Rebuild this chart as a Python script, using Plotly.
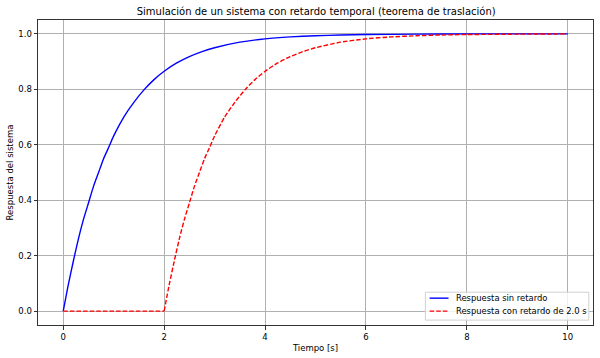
import plotly.graph_objects as go

# Response without delay
t_sin = [0, 0.1, 0.2, 0.3, 0.4, 0.5, 0.6, 0.7, 0.8, 0.9, 1.0, 1.2, 1.4, 1.6, 1.8, 2.0,
         2.25, 2.5, 2.75, 3.0, 3.5, 4.0, 4.5, 5.0, 5.5, 6.0, 7.0, 8.0, 9.0, 10.0]
y_sin = [0, 0.095, 0.18, 0.26, 0.33, 0.39, 0.45, 0.50, 0.55, 0.59, 0.632, 0.70, 0.753, 0.798, 0.835, 0.865,
         0.895, 0.918, 0.936, 0.95, 0.97, 0.982, 0.989, 0.993, 0.996, 0.9975, 0.999, 1.0, 1.0, 1.0]

# Response with 2.0 s delay
t_con = [0, 1.0, 2.0, 2.1, 2.2, 2.3, 2.4, 2.5, 2.6, 2.7, 2.8, 2.9, 3.0, 3.2, 3.4, 3.6, 3.8, 4.0,
         4.25, 4.5, 4.75, 5.0, 5.5, 6.0, 6.5, 7.0, 7.5, 8.0, 9.0, 10.0]
y_con = [0, 0, 0, 0.095, 0.18, 0.26, 0.33, 0.39, 0.45, 0.50, 0.55, 0.59, 0.632, 0.70, 0.753, 0.798, 0.835, 0.865,
         0.895, 0.918, 0.936, 0.95, 0.97, 0.982, 0.989, 0.993, 0.996, 0.9975, 0.999, 1.0]

x_ticks = [0, 2, 4, 6, 8, 10]
y_ticks = [0.0, 0.2, 0.4, 0.6, 0.8, 1.0]

series_names = ["Respuesta sin retardo", "Respuesta con retardo de 2.0 s"]
series_colors = ["blue", "red"]
series_dash = ["solid", "4.6px,2px"]

fig = go.Figure()
fig.add_trace(go.Scatter(x=t_sin, y=y_sin, mode="lines", name=series_names[0], showlegend=False,
                         line=dict(color=series_colors[0], width=1.4, shape="spline", smoothing=0.6)))
fig.add_trace(go.Scatter(x=t_con[:3], y=y_con[:3], mode="lines", showlegend=False,
                         line=dict(color=series_colors[1], width=1.4, dash=series_dash[1])))
fig.add_trace(go.Scatter(x=t_con[2:], y=y_con[2:], mode="lines", name=series_names[1], showlegend=False,
                         line=dict(color=series_colors[1], width=1.4, dash=series_dash[1],
                                   shape="spline", smoothing=0.6)))

axis_common = dict(showline=True, linecolor="#333333", linewidth=1, mirror=True,
                   ticks="outside", ticklen=3.5, tickcolor="#333333",
                   showgrid=True, gridcolor="#b0b0b0", gridwidth=0.8, zeroline=False,
                   tickfont=dict(size=8.5, color="black"))

# Custom legend box (matplotlib style, lower right)
shapes = [dict(type="rect", xref="paper", yref="paper", x0=0.698, x1=0.9925, y0=0.016, y1=0.1075,
               line=dict(color="#d0d0d0", width=1), fillcolor="rgba(255,255,255,0.8)", layer="above")]
annotations = []
rows_y = [0.088, 0.0456]
for name, col, dash, yy in zip(series_names, series_colors, series_dash, rows_y):
    shapes.append(dict(type="line", xref="paper", yref="paper", x0=0.7056, x1=0.7397, y0=yy, y1=yy,
                       line=dict(color=col, width=1.4, dash=dash), layer="above"))
    annotations.append(dict(text=name, xref="paper", yref="paper", x=0.7504, y=yy, xanchor="left",
                            yanchor="middle", showarrow=False, font=dict(size=8.4, color="black")))

fig.update_layout(
    width=600, height=358,
    margin=dict(l=38, r=6, t=20, b=31),
    paper_bgcolor="white", plot_bgcolor="white",
    font=dict(family="DejaVu Sans", color="black"),
    title=dict(text="Simulación de un sistema con retardo temporal (teorema de traslación)",
               x=0.527, xanchor="center", y=0.968, yanchor="middle", font=dict(size=10)),
    xaxis=dict(range=[-0.5, 10.5], tickvals=x_ticks, ticktext=[str(v) for v in x_ticks],
               title=dict(text="Tiempo [s]", font=dict(size=8.5), standoff=4), **axis_common),
    yaxis=dict(range=[-0.05, 1.05], tickvals=y_ticks, ticktext=[f"{v:.1f}" for v in y_ticks],
               title=dict(text="Respuesta del sistema", font=dict(size=8.5), standoff=3), **axis_common),
    shapes=shapes,
    annotations=annotations,
    showlegend=False,
)

fig.write_html("out.html")
